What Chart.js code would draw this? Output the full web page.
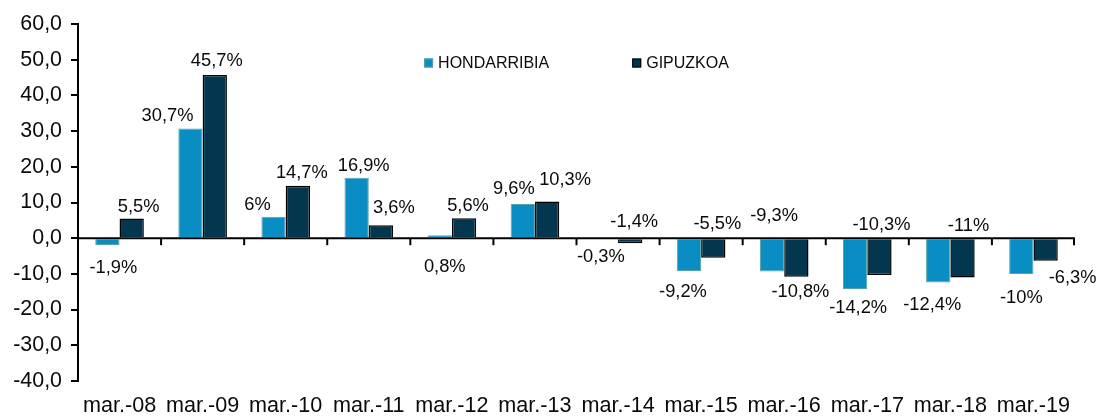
<!DOCTYPE html>
<html><head><meta charset="utf-8">
<script src="https://cdn.jsdelivr.net/npm/chart.js@4/dist/chart.umd.min.js"></script>
<style>html,body{margin:0;padding:0;background:#fff;}</style>
</head><body>
<canvas id="c" width="1098" height="417"></canvas>
<script>
const categories = ['mar.-08','mar.-09','mar.-10','mar.-11','mar.-12','mar.-13','mar.-14','mar.-15','mar.-16','mar.-17','mar.-18','mar.-19'];
const hondarribia = [-1.9, 30.7, 6, 16.9, 0.8, 9.6, -0.3, -9.2, -9.3, -14.2, -12.4, -10];
const gipuzkoa = [5.5, 45.7, 14.7, 3.6, 5.6, 10.3, -1.4, -5.5, -10.8, -10.3, -11, -6.3];
const seriesNames = ['HONDARRIBIA', 'GIPUZKOA'];
const yMin = -40, yMax = 60, yStep = 10;

const FONT = '"Liberation Sans", Arial, sans-serif';

// label placement offsets (style only): [dx, dy] from bar centre / bar end
const labelOffsets = [
  [[6,23],[-23,-13],[-16,-12],[7,-12],[5,32],[-9,-15],[-5,18],[-6,21],[2,-55],[3,19],[-6,22],[0,24]],
  [[7,-12],[2,-14],[4,-13],[13,-17],[4,-12],[18,-21],[4,-21],[4,-34],[4,15],[2,-50],[6,-52],[27,17]]
];

function fmtPct(v){ return String(v).replace('.', ',') + '%'; }

const overlay = {
  id: 'overlay',
  afterDatasetsDraw(chart) {
    const ctx = chart.ctx;
    const area = chart.chartArea;
    const ys = chart.scales.y, xs = chart.scales.x;
    const y0 = ys.getPixelForValue(0);
    ctx.save();
    ctx.strokeStyle = '#000';
    ctx.lineWidth = 2;
    ctx.beginPath();
    ctx.moveTo(area.left, y0);
    ctx.lineTo(area.right, y0);
    ctx.stroke();
    const n = categories.length;
    for (let i = 1; i <= n; i++) {
      const x = i < n ? (xs.getPixelForValue(i - 1) + xs.getPixelForValue(i)) / 2 : area.right - 1;
      ctx.beginPath();
      ctx.moveTo(x, y0);
      ctx.lineTo(x, y0 + 7);
      ctx.stroke();
    }
    ctx.font = '18.3px ' + FONT;
    ctx.fillStyle = '#0a0a0a';
    ctx.textAlign = 'center';
    ctx.textBaseline = 'middle';
    chart.data.datasets.forEach((ds, di) => {
      const meta = chart.getDatasetMeta(di);
      meta.data.forEach((el, i) => {
        const off = labelOffsets[di][i];
        ctx.fillText(fmtPct(ds.data[i]), el.x + off[0], el.y + off[1]);
      });
    });
    ctx.font = '16px ' + FONT;
    ctx.textAlign = 'left';
    const box = 9, gap = 5, itemGap = 83;
    const widths = chart.data.datasets.map(ds => ctx.measureText(ds.label).width);
    const total = widths.reduce((a, w) => a + box + gap + w, 0) + itemGap * (widths.length - 1);
    let lx = (area.left + area.right) / 2 - total / 2;
    const ly = 63;
    chart.data.datasets.forEach((ds, di) => {
      ctx.fillStyle = ds.backgroundColor;
      ctx.fillRect(lx, ly - box / 2, box, box);
      ctx.strokeStyle = ds.borderColor;
      ctx.lineWidth = 1;
      ctx.strokeRect(lx + 0.5, ly - box / 2 + 0.5, box - 1, box - 1);
      ctx.fillStyle = '#0a0a0a';
      ctx.fillText(ds.label, lx + box + gap, ly + 1);
      lx += box + gap + widths[di] + itemGap;
    });
    ctx.restore();
  }
};

new Chart(document.getElementById('c'), {
  type: 'bar',
  data: {
    labels: categories,
    datasets: [
      { label: seriesNames[0], data: hondarribia, backgroundColor: '#0A8DC3', borderColor: '#56A2AC', borderWidth: 1, categoryPercentage: 0.585, barPercentage: 1 },
      { label: seriesNames[1], data: gipuzkoa, backgroundColor: '#02374F', borderColor: '#000000', borderWidth: 1.5, categoryPercentage: 0.585, barPercentage: 1 }
    ]
  },
  options: {
    responsive: false,
    animation: false,
    devicePixelRatio: 1,
    layout: { padding: { top: 24, right: 23, left: 0, bottom: 0 } },
    plugins: { legend: { display: false }, tooltip: { enabled: false } },
    scales: {
      x: {
        grid: { display: false, drawTicks: false },
        border: { display: false },
        ticks: { font: { family: FONT, size: 21.6 }, color: '#0a0a0a', padding: 12, maxRotation: 0, autoSkip: false },
        afterFit(s) { s.height = 36; }
      },
      y: {
        min: yMin, max: yMax,
        ticks: { stepSize: yStep, font: { family: FONT, size: 21.4 }, color: '#0a0a0a', padding: 9,
                 callback: v => v.toFixed(1).replace('.', ',') },
        grid: { drawOnChartArea: false, tickLength: 7, color: '#000', lineWidth: 2 },
        border: { color: '#000', width: 2 },
        afterFit(s) { s.width = 78; }
      }
    }
  },
  plugins: [overlay]
});
</script>
</body></html>
